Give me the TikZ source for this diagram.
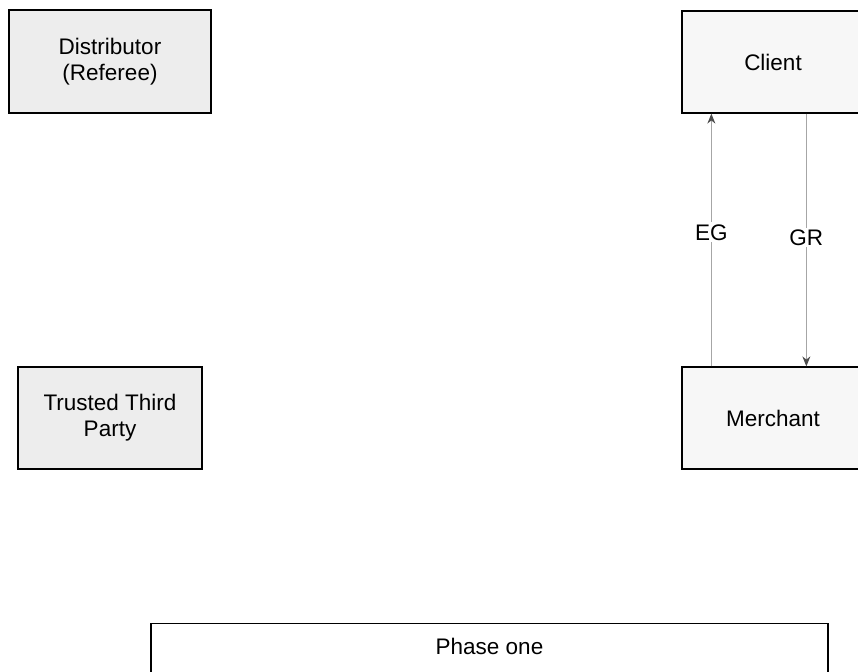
\documentclass[tikz,border=0pt]{standalone}
\usepackage{fontspec}
\setmainfont{Liberation Sans}
\usetikzlibrary{arrows.meta}
\begin{document}
\begin{tikzpicture}[x=1pt,y=-1pt,
  box/.style={draw=black, line width=1.3pt, inner sep=0pt, align=center,
    font=\fontsize{22.5}{26}\selectfont},
  leftbox/.style={box, fill=gray!14},
  rightbox/.style={box, fill=gray!6},
  conn/.style={draw=gray!70, line width=1pt, -{Stealth[length=10pt,width=8pt,color=gray!60!black]}},
  lbl/.style={fill=white, inner sep=2pt, font=\fontsize{22.5}{26}\selectfont}]
\useasboundingbox (0,0) rectangle (858,671);
\clip (0,0) rectangle (858,671);
\node[leftbox, minimum width=202pt, minimum height=103pt] (dist) at (110,61.5) {Distributor\\(Referee)};
\node[leftbox, minimum width=184pt, minimum height=102pt] (ttp) at (110,418) {Trusted Third\\Party};
\node[rightbox, minimum width=182pt, minimum height=102pt] (client) at (773,62) {Client};
\node[rightbox, minimum width=182pt, minimum height=102pt] (merchant) at (773,418) {Merchant};
\node[box, fill=white, minimum width=677pt, minimum height=52pt, anchor=north] (phase) at (489.5,623) {};
\node[font=\fontsize{22.5}{26}\selectfont] (phaselbl) at (489.5,646) {Phase one};
\draw[conn] ([xshift=30pt]merchant.north west) -- node[lbl, pos=0.53] {EG} ([xshift=30pt]client.south west);
\draw[conn] ([xshift=125pt]client.south west) -- node[lbl, pos=0.49] {GR} ([xshift=125pt]merchant.north west);
\end{tikzpicture}
\end{document}
